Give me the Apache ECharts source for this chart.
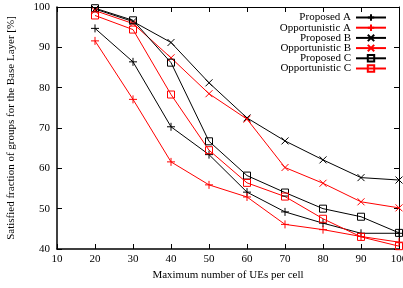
<!DOCTYPE html>
<html>
<head>
<meta charset="utf-8">
<script src="https://cdn.jsdelivr.net/npm/echarts@6/dist/echarts.min.js"></script>
<style>
  html, body { margin: 0; padding: 0; background: #fff; }
  #main { width: 403px; height: 288px; }
</style>
</head>
<body>
<div id="main"></div>
<script>
// 横轴：每小区最大UE数
var ues = [20, 30, 40, 50, 60, 70, 80, 90, 100];

var proposedA      = [94.7, 86.4, 70.3, 63.4, 54.1, 49.2, 46.4, 43.9, 43.9];
var opportunisticA = [91.6, 77.1, 61.6, 55.9, 52.9, 46.1, 44.8, 43.1, 41.7];
var proposedB      = [99.5, 96.4, 91.2, 81.2, 72.5, 66.8, 62.1, 57.7, 57.1];
var opportunisticB = [99.1, 95.9, 87.4, 78.5, 72.2, 60.2, 56.3, 51.7, 50.2];
var proposedC      = [99.7, 96.7, 86.2, 66.7, 58.2, 54.0, 50.0, 48.0, 44.0];
var opportunisticC = [97.9, 94.4, 78.3, 64.5, 56.4, 53.0, 47.5, 43.0, 40.7];

var names = ['Proposed A', 'Opportunistic A', 'Proposed B', 'Opportunistic B', 'Proposed C', 'Opportunistic C'];

var PLUS = 'path://M5,0L5,10M0,5L10,5';
var CROSS = 'path://M0,0L10,10M0,10L10,0';
var SQUARE = 'path://M0,0L10,0L10,10L0,10Z';

var font = 'Liberation Serif';

function pair(ys) {
    var out = [];
    for (var i = 0; i < ues.length; i++) out.push([ues[i], ys[i]]);
    return out;
}

function mkSeries(name, ys, color, symbol, size) {
    return {
        name: name,
        type: 'line',
        data: pair(ys),
        symbol: symbol,
        symbolSize: size,
        showAllSymbol: true,
        lineStyle: { color: color, width: 1 },
        itemStyle: { color: 'transparent', borderColor: color, borderWidth: 1 },
        emphasis: { disabled: true },
        animation: false
    };
}

var e = echarts.init(document.getElementById('main'));

var tickStyle = { inside: true, length: 5, lineStyle: { color: '#000', width: 1 } };

var option = {
    backgroundColor: '#fff',
    animation: false,
    textStyle: { fontFamily: font },
    grid: { left: 57, right: 4, top: 7, bottom: 39, outerBoundsMode: 'none' },
    legend: {
        orient: 'vertical',
        right: 11,
        top: 7,
        align: 'right',
        itemWidth: 30,
        itemHeight: 8,
        itemGap: -0.8,
        data: names,
        textStyle: { fontFamily: font, fontSize: 11, color: '#000', lineHeight: 10 }
    },
    xAxis: [{
        type: 'value',
        min: 10,
        max: 100,
        interval: 10,
        name: 'Maximum number of UEs per cell',
        nameLocation: 'middle',
        nameGap: 13,
        nameTextStyle: { fontFamily: font, fontSize: 11, color: '#000' },
        axisLine: { show: true, lineStyle: { color: '#000', width: 1.5 } },
        axisTick: tickStyle,
        axisLabel: { fontFamily: font, fontSize: 11, color: '#000', margin: 5, hideOverlap: false },
        splitLine: { show: false }
    }, {
        type: 'value',
        position: 'top',
        min: 10,
        max: 100,
        interval: 10,
        axisLine: { show: true, lineStyle: { color: '#000', width: 1 } },
        axisTick: tickStyle,
        axisLabel: { show: false },
        splitLine: { show: false }
    }],
    yAxis: [{
        type: 'value',
        min: 40,
        max: 100,
        interval: 10,
        name: 'Satisfied fraction of groups for the Base Layer [%]',
        nameLocation: 'middle',
        nameGap: 40,
        nameTextStyle: { fontFamily: font, fontSize: 11, color: '#000' },
        axisLine: { show: true, lineStyle: { color: '#000', width: 1.5 } },
        axisTick: tickStyle,
        axisLabel: { fontFamily: font, fontSize: 11, color: '#000', margin: 7 },
        splitLine: { show: false }
    }, {
        type: 'value',
        position: 'right',
        min: 40,
        max: 100,
        interval: 10,
        axisLine: { show: true, lineStyle: { color: '#000', width: 1 } },
        axisTick: tickStyle,
        axisLabel: { show: false },
        splitLine: { show: false }
    }],
    series: [
        mkSeries('Proposed A', proposedA, '#000', PLUS, 8),
        mkSeries('Opportunistic A', opportunisticA, '#f00', PLUS, 8),
        mkSeries('Proposed B', proposedB, '#000', CROSS, 7),
        mkSeries('Opportunistic B', opportunisticB, '#f00', CROSS, 7),
        mkSeries('Proposed C', proposedC, '#000', SQUARE, 7),
        mkSeries('Opportunistic C', opportunisticC, '#f00', SQUARE, 7)
    ]
};

e.setOption(option);
</script>
</body>
</html>
